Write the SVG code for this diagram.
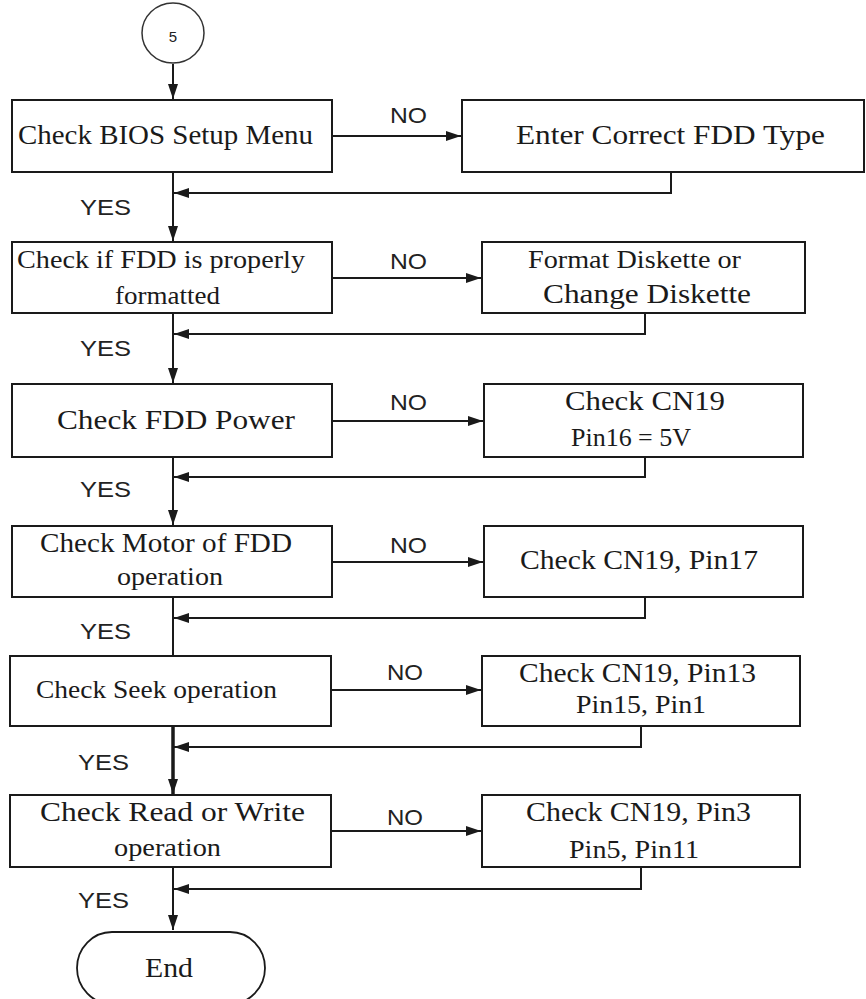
<svg xmlns="http://www.w3.org/2000/svg" width="866" height="999" viewBox="0 0 866 999">
<style>
.box{fill:#fff;stroke:#1a1a1a;stroke-width:2}
.ln{fill:none;stroke:#1a1a1a;stroke-width:2}
.t{font-family:"Liberation Serif","Times New Roman",serif;fill:#1a1a1a;font-size:28px}
.s{font-family:"Liberation Serif","Times New Roman",serif;fill:#1a1a1a;font-size:25px}
.lb{font-family:"Liberation Sans",Arial,sans-serif;fill:#222;font-size:22px}
</style>
<defs>
<marker id="ah" markerUnits="userSpaceOnUse" markerWidth="16" markerHeight="10" refX="15" refY="5" orient="auto">
<path d="M0,0 L15,5 L0,10 Z" fill="#1a1a1a"/>
</marker>
</defs>
<rect width="866" height="999" fill="#fff"/>
<g id="connectors">
<line class="ln" x1="173" y1="64" x2="173" y2="99" marker-end="url(#ah)"/>
<line class="ln" x1="173" y1="172" x2="173" y2="241" marker-end="url(#ah)"/>
<line class="ln" x1="173" y1="313" x2="173" y2="383" marker-end="url(#ah)"/>
<line class="ln" x1="173" y1="457" x2="173" y2="525" marker-end="url(#ah)"/>
<line class="ln" x1="173" y1="597" x2="173" y2="656"/>
<line class="ln" x1="173" y1="726" x2="173" y2="794" marker-end="url(#ah)" style="stroke-width:3.5"/>
<line class="ln" x1="173" y1="867" x2="173" y2="930" marker-end="url(#ah)"/>
<line class="ln" x1="332" y1="136" x2="461" y2="136" marker-end="url(#ah)"/>
<line class="ln" x1="332" y1="278" x2="481" y2="278" marker-end="url(#ah)"/>
<line class="ln" x1="332" y1="421" x2="483" y2="421" marker-end="url(#ah)"/>
<line class="ln" x1="332" y1="562" x2="483" y2="562" marker-end="url(#ah)"/>
<line class="ln" x1="331" y1="690" x2="481" y2="690" marker-end="url(#ah)"/>
<line class="ln" x1="331" y1="831" x2="481" y2="831" marker-end="url(#ah)"/>
<polyline class="ln" points="671,172 671,193 174,193" marker-end="url(#ah)"/>
<polyline class="ln" points="645,313 645,334 174,334" marker-end="url(#ah)"/>
<polyline class="ln" points="645,457 645,477 174,477" marker-end="url(#ah)"/>
<polyline class="ln" points="645,597 645,618 174,618" marker-end="url(#ah)"/>
<polyline class="ln" points="641,726 641,747 174,747" marker-end="url(#ah)"/>
<polyline class="ln" points="641,867 641,889 174,889" marker-end="url(#ah)"/>
<text class="lb" x="390" y="123" textLength="37" lengthAdjust="spacingAndGlyphs">NO</text>
<text class="lb" x="390" y="269" textLength="37" lengthAdjust="spacingAndGlyphs">NO</text>
<text class="lb" x="390" y="410" textLength="37" lengthAdjust="spacingAndGlyphs">NO</text>
<text class="lb" x="390" y="553" textLength="37" lengthAdjust="spacingAndGlyphs">NO</text>
<text class="lb" x="387" y="680" textLength="36" lengthAdjust="spacingAndGlyphs">NO</text>
<text class="lb" x="387" y="825" textLength="36" lengthAdjust="spacingAndGlyphs">NO</text>
<text class="lb" x="80" y="215" textLength="51" lengthAdjust="spacingAndGlyphs">YES</text>
<text class="lb" x="80" y="356" textLength="51" lengthAdjust="spacingAndGlyphs">YES</text>
<text class="lb" x="80" y="497" textLength="51" lengthAdjust="spacingAndGlyphs">YES</text>
<text class="lb" x="80" y="639" textLength="51" lengthAdjust="spacingAndGlyphs">YES</text>
<text class="lb" x="78" y="770" textLength="51" lengthAdjust="spacingAndGlyphs">YES</text>
<text class="lb" x="78" y="908" textLength="51" lengthAdjust="spacingAndGlyphs">YES</text>
</g>
<g id="start">
<ellipse cx="173" cy="33" rx="31" ry="30" fill="#fff" stroke="#333" stroke-width="1.5"/>
<text x="173" y="42" text-anchor="middle" font-family="Liberation Sans,Arial,sans-serif" font-size="15" fill="#222">5</text>
</g>
<g id="n1">
<rect class="box" x="12" y="100" width="320" height="72"/>
<text class="t" x="18" y="144" textLength="295" lengthAdjust="spacingAndGlyphs">Check BIOS Setup Menu</text>
</g>
<g id="n1no">
<rect class="box" x="462" y="100" width="402" height="72"/>
<text class="t" x="516" y="144" textLength="309" lengthAdjust="spacingAndGlyphs">Enter Correct FDD Type</text>
</g>
<g id="n2">
<rect class="box" x="12" y="242" width="320" height="71"/>
<text class="s" x="17" y="268" textLength="288" lengthAdjust="spacingAndGlyphs">Check if FDD is properly</text>
<text class="s" x="115" y="304" textLength="105" lengthAdjust="spacingAndGlyphs">formatted</text>
</g>
<g id="n2no">
<rect class="box" x="482" y="242" width="323" height="71"/>
<text class="s" x="528" y="268" textLength="213" lengthAdjust="spacingAndGlyphs">Format Diskette or</text>
<text class="t" x="543" y="303" textLength="208" lengthAdjust="spacingAndGlyphs">Change Diskette</text>
</g>
<g id="n3">
<rect class="box" x="12" y="384" width="320" height="73"/>
<text class="t" x="57" y="429" textLength="238" lengthAdjust="spacingAndGlyphs">Check FDD Power</text>
</g>
<g id="n3no">
<rect class="box" x="484" y="384" width="319" height="73"/>
<text class="t" x="565" y="410" textLength="160" lengthAdjust="spacingAndGlyphs">Check CN19</text>
<text class="s" x="571" y="446" textLength="120" lengthAdjust="spacingAndGlyphs">Pin16 = 5V</text>
</g>
<g id="n4">
<rect class="box" x="12" y="526" width="320" height="71"/>
<text class="t" x="40" y="552" textLength="252" lengthAdjust="spacingAndGlyphs">Check Motor of FDD</text>
<text class="s" x="117" y="585" textLength="106" lengthAdjust="spacingAndGlyphs">operation</text>
</g>
<g id="n4no">
<rect class="box" x="484" y="526" width="319" height="71"/>
<text class="t" x="520" y="569" textLength="238" lengthAdjust="spacingAndGlyphs">Check CN19, Pin17</text>
</g>
<g id="n5">
<rect class="box" x="10" y="656" width="321" height="70"/>
<text class="s" x="36" y="698" textLength="241" lengthAdjust="spacingAndGlyphs">Check Seek operation</text>
</g>
<g id="n5no">
<rect class="box" x="482" y="656" width="318" height="70"/>
<text class="t" x="519" y="682" textLength="237" lengthAdjust="spacingAndGlyphs">Check CN19, Pin13</text>
<text class="s" x="576" y="713" textLength="130" lengthAdjust="spacingAndGlyphs">Pin15, Pin1</text>
</g>
<g id="n6">
<rect class="box" x="10" y="795" width="321" height="72"/>
<text class="t" x="40" y="821" textLength="265" lengthAdjust="spacingAndGlyphs">Check Read or Write</text>
<text class="s" x="114" y="856" textLength="107" lengthAdjust="spacingAndGlyphs">operation</text>
</g>
<g id="n6no">
<rect class="box" x="482" y="795" width="318" height="72"/>
<text class="t" x="526" y="821" textLength="225" lengthAdjust="spacingAndGlyphs">Check CN19, Pin3</text>
<text class="s" x="569" y="858" textLength="130" lengthAdjust="spacingAndGlyphs">Pin5, Pin11</text>
</g>
<g id="end">
<path d="M112,932 H230 A35,36 0 0 1 230,1004 H112 A35,36 0 0 1 112,932 Z" fill="#fff" stroke="#1a1a1a" stroke-width="1.8"/>
<text class="t" x="145" y="977" textLength="48" lengthAdjust="spacingAndGlyphs">End</text>
</g>
</svg>
